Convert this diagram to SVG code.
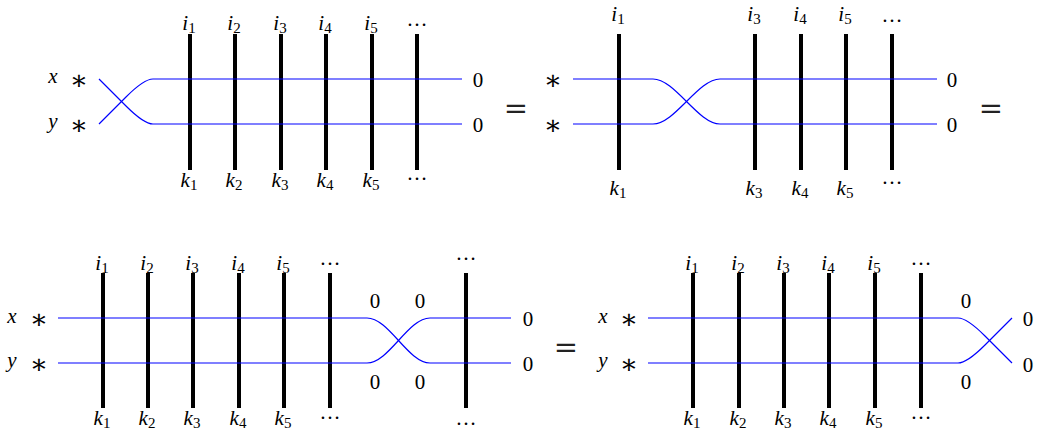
<svg xmlns="http://www.w3.org/2000/svg" width="1037" height="433" viewBox="0 0 1037 433" font-family="'Liberation Serif', 'DejaVu Serif', serif">
<style>
text{font-family:'Liberation Serif','DejaVu Serif',serif;font-size:21px;fill:#000}
.it{font-style:italic}
.sub{font-size:15px}
.c{text-anchor:middle}
.ast{font-family:'DejaVu Serif',serif;font-size:27px}
.eq{font-family:'DejaVu Serif',serif;font-size:29px;fill:#222}
.bar{stroke:#000;stroke-width:4;fill:none}
.w{stroke:#0000ff;stroke-width:1.2;fill:none}
</style>
<rect width="1037" height="433" fill="#fff"/>
<g id="bars">
<g id="T1-bars">
<line class="bar" x1="190" y1="34" x2="190" y2="170"/>
<line class="bar" x1="235" y1="34" x2="235" y2="170"/>
<line class="bar" x1="281" y1="34" x2="281" y2="170"/>
<line class="bar" x1="326" y1="34" x2="326" y2="170"/>
<line class="bar" x1="372" y1="34" x2="372" y2="170"/>
<line class="bar" x1="417" y1="34" x2="417" y2="170"/>
</g>
<g id="T2-bars">
<line class="bar" x1="619" y1="34" x2="619" y2="170"/>
<line class="bar" x1="755" y1="34" x2="755" y2="170"/>
<line class="bar" x1="801" y1="34" x2="801" y2="170"/>
<line class="bar" x1="846" y1="34" x2="846" y2="170"/>
<line class="bar" x1="892" y1="34" x2="892" y2="170"/>
</g>
<g id="B1-bars">
<line class="bar" x1="103" y1="273" x2="103" y2="408"/>
<line class="bar" x1="148" y1="273" x2="148" y2="408"/>
<line class="bar" x1="193" y1="273" x2="193" y2="408"/>
<line class="bar" x1="239" y1="273" x2="239" y2="408"/>
<line class="bar" x1="284" y1="273" x2="284" y2="408"/>
<line class="bar" x1="330" y1="273" x2="330" y2="408"/>
<line class="bar" x1="466" y1="273" x2="466" y2="408"/>
</g>
<g id="B2-bars">
<line class="bar" x1="693" y1="273" x2="693" y2="408"/>
<line class="bar" x1="739" y1="273" x2="739" y2="408"/>
<line class="bar" x1="784" y1="273" x2="784" y2="408"/>
<line class="bar" x1="829" y1="273" x2="829" y2="408"/>
<line class="bar" x1="875" y1="273" x2="875" y2="408"/>
<line class="bar" x1="921" y1="273" x2="921" y2="408"/>
</g>
</g>
<g id="connectors">
<path class="w" d="M99,79 L126,106 Q144,124 153,124 H462"/>
<path class="w" d="M99,124 L126,97 Q144,79 153,79 H462"/>
<path class="w" d="M573,79 H653 C675,79 698,124 720,124 H937"/>
<path class="w" d="M573,124 H653 C675,124 698,79 720,79 H937"/>
<path class="w" d="M58,318 H367 C389,318 408,363 430,363 H511"/>
<path class="w" d="M58,363 H367 C389,363 408,318 430,318 H511"/>
<path class="w" d="M648,318 H958 Q967,318 985,336 L1012,363"/>
<path class="w" d="M648,363 H958 Q967,363 985,345 L1012,318"/>
</g>
<g id="T1-labels">
<text class="it c" x="53" y="83">x</text>
<text class="it c" x="53" y="128">y</text>
<text class="ast c" x="79" y="89">∗</text>
<text class="ast c" x="79" y="134">∗</text>
<text class="c" x="189" y="30"><tspan class="it">i</tspan><tspan class="sub" dy="3">1</tspan></text>
<text class="c" x="234" y="30"><tspan class="it">i</tspan><tspan class="sub" dy="3">2</tspan></text>
<text class="c" x="280" y="30"><tspan class="it">i</tspan><tspan class="sub" dy="3">3</tspan></text>
<text class="c" x="325" y="30"><tspan class="it">i</tspan><tspan class="sub" dy="3">4</tspan></text>
<text class="c" x="371" y="30"><tspan class="it">i</tspan><tspan class="sub" dy="3">5</tspan></text>
<text class="c" x="417" y="26">…</text>
<text class="c" x="189" y="187"><tspan class="it">k</tspan><tspan class="sub" dy="3">1</tspan></text>
<text class="c" x="234" y="187"><tspan class="it">k</tspan><tspan class="sub" dy="3">2</tspan></text>
<text class="c" x="280" y="187"><tspan class="it">k</tspan><tspan class="sub" dy="3">3</tspan></text>
<text class="c" x="325" y="187"><tspan class="it">k</tspan><tspan class="sub" dy="3">4</tspan></text>
<text class="c" x="371" y="187"><tspan class="it">k</tspan><tspan class="sub" dy="3">5</tspan></text>
<text class="c" x="417" y="180">…</text>
<text class="c" x="478" y="87">0</text>
<text class="c" x="478" y="132">0</text>
<text class="eq c" x="516" y="118">=</text>
</g>
<g id="T2-labels">
<text class="ast c" x="553" y="89">∗</text>
<text class="ast c" x="553" y="134">∗</text>
<text class="c" x="618" y="21"><tspan class="it">i</tspan><tspan class="sub" dy="3">1</tspan></text>
<text class="c" x="754" y="21"><tspan class="it">i</tspan><tspan class="sub" dy="3">3</tspan></text>
<text class="c" x="800" y="21"><tspan class="it">i</tspan><tspan class="sub" dy="3">4</tspan></text>
<text class="c" x="845" y="21"><tspan class="it">i</tspan><tspan class="sub" dy="3">5</tspan></text>
<text class="c" x="892" y="22">…</text>
<text class="c" x="618" y="195"><tspan class="it">k</tspan><tspan class="sub" dy="3">1</tspan></text>
<text class="c" x="754" y="195"><tspan class="it">k</tspan><tspan class="sub" dy="3">3</tspan></text>
<text class="c" x="800" y="195"><tspan class="it">k</tspan><tspan class="sub" dy="3">4</tspan></text>
<text class="c" x="845" y="195"><tspan class="it">k</tspan><tspan class="sub" dy="3">5</tspan></text>
<text class="c" x="892" y="184">…</text>
<text class="c" x="952" y="87">0</text>
<text class="c" x="952" y="132">0</text>
<text class="eq c" x="991" y="118">=</text>
</g>
<g id="B1-labels">
<text class="it c" x="12" y="323">x</text>
<text class="it c" x="12" y="367">y</text>
<text class="ast c" x="39" y="328">∗</text>
<text class="ast c" x="39" y="373">∗</text>
<text class="c" x="102" y="270"><tspan class="it">i</tspan><tspan class="sub" dy="3">1</tspan></text>
<text class="c" x="147" y="270"><tspan class="it">i</tspan><tspan class="sub" dy="3">2</tspan></text>
<text class="c" x="192" y="270"><tspan class="it">i</tspan><tspan class="sub" dy="3">3</tspan></text>
<text class="c" x="238" y="270"><tspan class="it">i</tspan><tspan class="sub" dy="3">4</tspan></text>
<text class="c" x="283" y="270"><tspan class="it">i</tspan><tspan class="sub" dy="3">5</tspan></text>
<text class="c" x="330" y="265">…</text>
<text class="c" x="466" y="260">…</text>
<text class="c" x="102" y="425"><tspan class="it">k</tspan><tspan class="sub" dy="3">1</tspan></text>
<text class="c" x="147" y="425"><tspan class="it">k</tspan><tspan class="sub" dy="3">2</tspan></text>
<text class="c" x="192" y="425"><tspan class="it">k</tspan><tspan class="sub" dy="3">3</tspan></text>
<text class="c" x="238" y="425"><tspan class="it">k</tspan><tspan class="sub" dy="3">4</tspan></text>
<text class="c" x="283" y="425"><tspan class="it">k</tspan><tspan class="sub" dy="3">5</tspan></text>
<text class="c" x="330" y="419">…</text>
<text class="c" x="466" y="425">…</text>
<text class="c" x="375" y="308">0</text>
<text class="c" x="420" y="308">0</text>
<text class="c" x="375" y="389">0</text>
<text class="c" x="420" y="389">0</text>
<text class="c" x="528" y="326">0</text>
<text class="c" x="528" y="371">0</text>
<text class="eq c" x="566" y="357">=</text>
</g>
<g id="B2-labels">
<text class="it c" x="603" y="323">x</text>
<text class="it c" x="603" y="367">y</text>
<text class="ast c" x="629" y="328">∗</text>
<text class="ast c" x="629" y="373">∗</text>
<text class="c" x="692" y="270"><tspan class="it">i</tspan><tspan class="sub" dy="3">1</tspan></text>
<text class="c" x="738" y="270"><tspan class="it">i</tspan><tspan class="sub" dy="3">2</tspan></text>
<text class="c" x="783" y="270"><tspan class="it">i</tspan><tspan class="sub" dy="3">3</tspan></text>
<text class="c" x="828" y="270"><tspan class="it">i</tspan><tspan class="sub" dy="3">4</tspan></text>
<text class="c" x="874" y="270"><tspan class="it">i</tspan><tspan class="sub" dy="3">5</tspan></text>
<text class="c" x="921" y="265">…</text>
<text class="c" x="692" y="425"><tspan class="it">k</tspan><tspan class="sub" dy="3">1</tspan></text>
<text class="c" x="738" y="425"><tspan class="it">k</tspan><tspan class="sub" dy="3">2</tspan></text>
<text class="c" x="783" y="425"><tspan class="it">k</tspan><tspan class="sub" dy="3">3</tspan></text>
<text class="c" x="828" y="425"><tspan class="it">k</tspan><tspan class="sub" dy="3">4</tspan></text>
<text class="c" x="874" y="425"><tspan class="it">k</tspan><tspan class="sub" dy="3">5</tspan></text>
<text class="c" x="921" y="419">…</text>
<text class="c" x="966" y="308">0</text>
<text class="c" x="966" y="389">0</text>
<text class="c" x="1028" y="326">0</text>
<text class="c" x="1028" y="372">0</text>
</g>
</svg>
